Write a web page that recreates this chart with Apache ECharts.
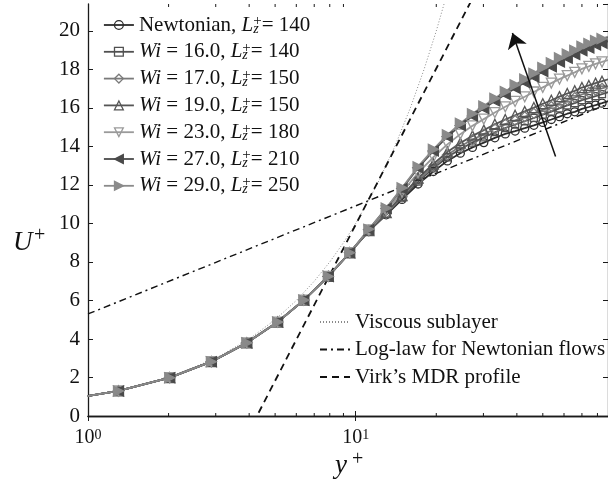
<!DOCTYPE html>
<html>
<head>
<meta charset="utf-8">
<script src="https://cdn.jsdelivr.net/npm/echarts@6/dist/echarts.min.js"></script>
<style>
  html, body { margin: 0; padding: 0; background: #fff; }
  #chart { width: 608px; height: 489px; }
</style>
</head>
<body>
<div id="chart"></div>
<script>
// Wall-normal positions of the solution points (y+)
const yPlus = [0.72, 1.30, 2.02, 2.89, 3.92, 5.11, 6.40, 7.90, 9.50, 11.2, 13.0, 14.9, 17.1, 19.5, 22.0,
  24.6, 27.3, 30.1, 33.1, 36.2, 39.4, 42.8, 46.3, 50.0, 53.8, 57.7, 61.7, 65.8, 70.0, 74.3, 78.7, 83.2, 87.8];

// Mean velocity profiles U+
const uNewtonian = [0.72, 1.30, 1.99, 2.82, 3.80, 4.88, 6.02, 7.25, 8.48,
  9.60, 10.45, 11.25, 12.05, 12.70, 13.25, 13.65, 13.95, 14.20, 14.45, 14.65, 14.80, 14.95, 15.10,
  15.25, 15.40, 15.55, 15.70, 15.80, 15.95, 16.05, 16.15, 16.25, 16.35];
const uWi16 = [0.72, 1.30, 1.99, 2.82, 3.80, 4.88, 6.02, 7.25, 8.48,
  9.61, 10.50, 11.33, 12.18, 12.86, 13.44, 13.87, 14.20, 14.47, 14.74, 14.96, 15.14, 15.31, 15.48,
  15.65, 15.81, 15.98, 16.13, 16.25, 16.41, 16.51, 16.62, 16.72, 16.82];
const uWi17 = [0.72, 1.30, 1.99, 2.82, 3.80, 4.88, 6.02, 7.25, 8.48,
  9.62, 10.53, 11.39, 12.26, 12.96, 13.56, 14.01, 14.35, 14.64, 14.92, 15.16, 15.35, 15.54, 15.72,
  15.91, 16.08, 16.25, 16.41, 16.54, 16.70, 16.81, 16.92, 17.02, 17.12];
const uWi19 = [0.72, 1.30, 1.99, 2.82, 3.80, 4.88, 6.02, 7.25, 8.48,
  9.63, 10.57, 11.45, 12.36, 13.09, 13.71, 14.18, 14.55, 14.85, 15.15, 15.40, 15.62, 15.82, 16.02,
  16.22, 16.40, 16.59, 16.75, 16.89, 17.06, 17.17, 17.29, 17.39, 17.49];
const uWi23 = [0.72, 1.30, 1.99, 2.82, 3.80, 4.88, 6.02, 7.25, 8.48,
  9.66, 10.67, 11.63, 12.63, 13.44, 14.11, 14.64, 15.07, 15.42, 15.76, 16.06, 16.34, 16.58, 16.83,
  17.07, 17.29, 17.50, 17.68, 17.85, 18.03, 18.16, 18.29, 18.39, 18.49];
const uWi27 = [0.72, 1.30, 1.99, 2.82, 3.80, 4.88, 6.02, 7.25, 8.48,
  9.69, 10.78, 11.81, 12.89, 13.77, 14.51, 15.09, 15.58, 15.97, 16.36, 16.70, 17.03, 17.32, 17.61,
  17.90, 18.14, 18.39, 18.58, 18.78, 18.97, 19.12, 19.27, 19.37, 19.47];
const uWi29 = [0.72, 1.30, 1.99, 2.82, 3.80, 4.88, 6.02, 7.25, 8.48,
  9.70, 10.80, 11.85, 12.95, 13.85, 14.60, 15.20, 15.70, 16.10, 16.50, 16.85, 17.20, 17.50, 17.80,
  18.10, 18.35, 18.60, 18.80, 19.00, 19.20, 19.35, 19.50, 19.60, 19.70];

// Case parameters
const wiValues = [null, 16.0, 17.0, 19.0, 23.0, 27.0, 29.0];
const lzValues = [140, 140, 150, 150, 180, 210, 250];

// Reference laws: viscous sublayer U+ = y+, log law, Virk's MDR
const viscousSublayer = [[1, 1], [1.5, 1.5], [2, 2], [3, 3], [4, 4], [5, 5], [6, 6], [7, 7], [8, 8],
  [9, 9], [10, 10], [12, 12], [14, 14], [16, 16], [18, 18], [20, 20], [22, 22]];
const logLaw = [[1, 5.3], [100, 16.53]];
const virkMDR = [[1, -17.0], [100, 36.88]];

// Direction of increasing Wi
const arrowFrom = [55.8, 13.48];
const arrowTo = [38.5, 19.9];

// Axis settings
const xRange = [1, 87.6];
const yRange = [0, 21.4];
const yStep = 2;
const xMinorTicks = [2, 3, 4, 5, 6, 7, 8, 9, 20, 30, 40, 50, 60, 70, 80];

const SERIF = '"Liberation Serif", "Times New Roman", serif';
const AXIS = '#1a1a1a';

const caseStyles = [
  { key: 'c0', u: uNewtonian, color: '#2b2b2b', symbol: 'circle', size: 8, rotate: 0, filled: false },
  { key: 'c1', u: uWi16, color: '#505050', symbol: 'rect', size: 7, rotate: 0, filled: false },
  { key: 'c2', u: uWi17, color: '#7a7a7a', symbol: 'diamond', size: 10, rotate: 0, filled: false },
  { key: 'c3', u: uWi19, color: '#555555', symbol: 'triangle', size: 10, rotate: 0, filled: false },
  { key: 'c4', u: uWi23, color: '#9a9a9a', symbol: 'triangle', size: 10, rotate: 180, filled: false },
  { key: 'c5', u: uWi27, color: '#4a4a4a', symbol: 'triangle', size: 10, rotate: 90, filled: true },
  { key: 'c6', u: uWi29, color: '#8a8a8a', symbol: 'triangle', size: 10, rotate: -90, filled: true }
];

function caseLabel(i) {
  const lz = '{i|L}{z|z}{p|+}{n|= ' + lzValues[i] + '}';
  if (wiValues[i] === null) return '{n|Newtonian, }' + lz;
  return '{i|Wi}{n| = ' + wiValues[i].toFixed(1) + ', }' + lz;
}

const labelMap = {};
caseStyles.forEach((c, i) => { labelMap[c.key] = caseLabel(i); });

const profileSeries = caseStyles.map(c => ({
  name: c.key,
  type: 'line',
  data: yPlus.map((y, j) => [y, c.u[j]]),
  symbol: c.symbol,
  symbolSize: c.size,
  symbolRotate: c.rotate,
  showAllSymbol: true,
  lineStyle: { color: c.color, width: 1.8 },
  itemStyle: {
    color: c.filled ? c.color : 'rgba(0,0,0,0)',
    borderColor: c.color,
    borderWidth: 1.3
  },
  emphasis: { disabled: true },
  z: 3
}));

const refSeries = [
  { name: 'Viscous sublayer', type: 'line', data: viscousSublayer, symbol: 'none',
    lineStyle: { color: '#8a8a8a', width: 1, type: [1, 2] }, z: 2 },
  { name: 'Log-law for Newtonian flows', type: 'line', data: logLaw, symbol: 'none',
    lineStyle: { color: '#111', width: 1.4, type: [7, 4, 2, 4] }, z: 2 },
  { name: 'Virk\u2019s MDR profile', type: 'line', data: virkMDR, symbol: 'none',
    lineStyle: { color: '#111', width: 1.8, type: [7, 5] }, z: 2 }
];

const richLegend = {
  n: { fontFamily: SERIF, fontSize: 21, color: '#111' },
  i: { fontFamily: SERIF, fontSize: 21, fontStyle: 'italic', color: '#111' },
  z: { fontFamily: SERIF, fontSize: 14, fontStyle: 'italic', color: '#111', verticalAlign: 'bottom', width: 0 },
  p: { fontFamily: SERIF, fontSize: 15, color: '#111', verticalAlign: 'top' }
};

const chart = echarts.init(document.getElementById('chart'), null, { renderer: 'canvas' });

const option = {
  animation: false,
  backgroundColor: '#fff',
  grid: { left: 88, top: 4, width: 522, height: 412 },
  xAxis: [
    {
      type: 'log', logBase: 10, min: xRange[0], max: xRange[1], position: 'bottom',
      axisLine: { lineStyle: { color: AXIS, width: 1.3 } },
      axisTick: { inside: true, length: 5, lineStyle: { color: AXIS, width: 1 } },
      splitLine: { show: false },
      axisLabel: {
        margin: 12, showMaxLabel: false,
        formatter: v => {
          const e = Math.log10(v);
          if (Math.abs(e - Math.round(e)) > 1e-6) return '';
          return '{b|10}{s|' + Math.round(e) + '}';
        },
        rich: {
          b: { fontFamily: SERIF, fontSize: 20, color: '#111' },
          s: { fontFamily: SERIF, fontSize: 14, color: '#111', verticalAlign: 'top' }
        }
      }
    },
    {
      type: 'log', logBase: 10, min: xRange[0], max: xRange[1], position: 'top',
      axisLine: { lineStyle: { color: AXIS, width: 1.3 } },
      axisTick: { inside: true, length: 5, lineStyle: { color: AXIS, width: 1 } },
      splitLine: { show: false },
      axisLabel: { show: false }
    }
  ],
  yAxis: [
    {
      type: 'value', min: yRange[0], max: yRange[1], interval: yStep, position: 'left',
      axisLine: { show: true, lineStyle: { color: AXIS, width: 1.3 } },
      axisTick: { show: true, inside: true, length: 5, lineStyle: { color: AXIS, width: 1 } },
      splitLine: { show: false },
      axisLabel: {
        margin: 8, showMaxLabel: false, fontFamily: SERIF, fontSize: 21, color: '#111',
        formatter: v => (Math.abs(v - Math.round(v)) < 1e-6 && Math.round(v) % 2 === 0) ? String(Math.round(v)) : ''
      }
    },
    {
      type: 'value', min: yRange[0], max: yRange[1], interval: yStep, position: 'right',
      axisLine: { show: true, lineStyle: { color: AXIS, width: 1.3 } },
      axisTick: { show: true, inside: true, length: 5, lineStyle: { color: AXIS, width: 1 } },
      splitLine: { show: false },
      axisLabel: { show: false }
    }
  ],
  legend: [
    {
      orient: 'vertical', left: 103, top: 14, padding: 0, itemGap: 4.8,
      itemWidth: 30, itemHeight: 11, selectedMode: false,
      data: caseStyles.map(c => ({
        name: c.key,
        itemStyle: { color: c.filled ? c.color : 'rgba(0,0,0,0)', borderColor: c.color, borderWidth: 1.3 },
        lineStyle: { color: c.color, width: 1.8 }
      })),
      formatter: name => labelMap[name],
      textStyle: { fontFamily: SERIF, fontSize: 21, color: '#111', lineHeight: 22, rich: richLegend }
    },
    {
      orient: 'vertical', left: 319, top: 311, padding: 0, itemGap: 5.5,
      itemWidth: 30, itemHeight: 11, selectedMode: false,
      data: refSeries.map(s => ({ name: s.name, itemStyle: { opacity: 0 } })),
      textStyle: { fontFamily: SERIF, fontSize: 21, color: '#111', lineHeight: 22 }
    }
  ],
  series: [
    ...refSeries,
    ...profileSeries,
    {
      type: 'lines', coordinateSystem: 'cartesian2d', silent: true, z: 5,
      symbol: ['none', 'arrow'], symbolSize: [9, 15],
      lineStyle: { color: '#111', width: 1.5, opacity: 1 },
      data: [{ coords: [arrowFrom, arrowTo] }]
    },
    {
      type: 'custom', coordinateSystem: 'cartesian2d', silent: true, z: 6,
      data: xMinorTicks.map(v => [v, yRange[0]]),
      renderItem: (params, api) => {
        const p = api.coord([api.value(0), api.value(1)]);
        const cs = params.coordSys;
        const bottom = cs.y + cs.height;
        return {
          type: 'group',
          children: [
            { type: 'line', shape: { x1: p[0], y1: bottom, x2: p[0], y2: bottom - 3 }, style: { stroke: AXIS, lineWidth: 1 } },
            { type: 'line', shape: { x1: p[0], y1: cs.y, x2: p[0], y2: cs.y + 3 }, style: { stroke: AXIS, lineWidth: 1 } }
          ]
        };
      }
    }
  ],
  graphic: [
    { type: 'text', x: 13, y: 243, style: { text: 'U', font: 'italic 27px ' + SERIF, fill: '#111', verticalAlign: 'middle' } },
    { type: 'text', x: 34, y: 236, style: { text: '+', font: '20px ' + SERIF, fill: '#111', verticalAlign: 'middle' } },
    { type: 'text', x: 335, y: 466, style: { text: 'y', font: 'italic 27px ' + SERIF, fill: '#111', verticalAlign: 'middle' } },
    { type: 'text', x: 352, y: 460, style: { text: '+', font: '20px ' + SERIF, fill: '#111', verticalAlign: 'middle' } }
  ]
};

chart.setOption(option);
</script>
</body>
</html>
